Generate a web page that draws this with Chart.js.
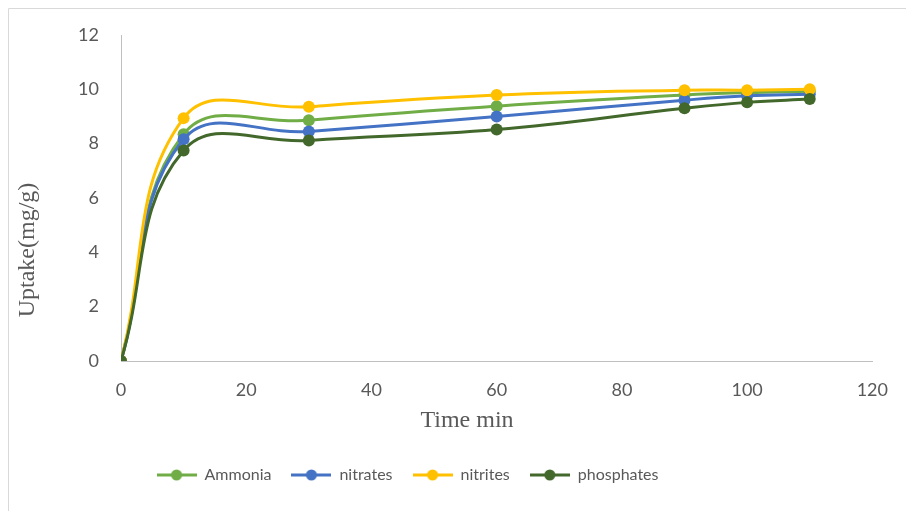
<!DOCTYPE html>
<html>
<head>
<meta charset="utf-8">
<script src="https://cdn.jsdelivr.net/npm/chart.js@4"></script>
<style>
  html, body { margin: 0; padding: 0; background: #fff; }
  #wrap { position: relative; width: 906px; height: 511px; }
</style>
</head>
<body>
<div id="wrap"><canvas id="chart" width="906" height="511"></canvas></div>
<script>
// time (min) and uptake (mg/g)
const times      = [0, 10, 30, 60, 90, 100, 110];
const ammonia    = [0, 8.35, 8.86, 9.38, 9.79, 9.88, 9.93];
const nitrates   = [0, 8.16, 8.45, 9.00, 9.60, 9.76, 9.82];
const nitrites   = [0, 8.94, 9.36, 9.79, 9.97, 9.97, 10.00];
const phosphates = [0, 7.75, 8.12, 8.52, 9.30, 9.52, 9.64];

const seriesNames  = ['Ammonia', 'nitrates', 'nitrites', 'phosphates'];
const seriesValues = [ammonia, nitrates, nitrites, phosphates];
const seriesColors = ['#70AD47', '#4472C4', '#FFC000', '#43682B'];

const xTitle = 'Time min';
const yTitle = 'Uptake(mg/g)';
const GRAY = '#595959';

// legend marker: short line with a dot on it
function legendMarker(color) {
  const c = document.createElement('canvas');
  c.width = 40; c.height = 14;
  const g = c.getContext('2d');
  g.strokeStyle = color; g.lineWidth = 3;
  g.beginPath(); g.moveTo(0, 7); g.lineTo(40, 7); g.stroke();
  g.fillStyle = color;
  g.beginPath(); g.arc(20, 7, 5.5, 0, Math.PI * 2); g.fill();
  return c;
}

const datasets = seriesNames.map((name, i) => ({
  label: name,
  data: times.map((t, j) => ({ x: t, y: seriesValues[i][j] })),
  borderColor: seriesColors[i],
  backgroundColor: seriesColors[i],
  borderWidth: 3,
  pointRadius: 6,
  pointHoverRadius: 6,
  pointBorderWidth: 0,
  tension: 0.42,
  order: seriesNames.length - i   // later series sit on top, like the source
}));

const extras = {
  id: 'extras',
  afterLayout(chart) {
    // legend sits left of centre in the source
    chart.legend.left -= 30;
    chart.legend.right -= 30;
  },
  beforeDraw(chart) {
    const ctx = chart.ctx;
    ctx.save();
    ctx.strokeStyle = '#d9d9d9'; ctx.lineWidth = 1;
    ctx.beginPath();
    ctx.moveTo(8.5, 511); ctx.lineTo(8.5, 8.5); ctx.lineTo(906, 8.5);
    ctx.stroke();
    ctx.restore();
  },
  afterDraw(chart) {
    const ctx = chart.ctx;
    ctx.save();
    ctx.fillStyle = GRAY;
    ctx.font = '24px "Liberation Serif", "Times New Roman", serif';
    ctx.textAlign = 'center'; ctx.textBaseline = 'middle';
    ctx.fillText(xTitle, 467, 421);
    ctx.translate(28, 250);
    ctx.rotate(-Math.PI / 2);
    ctx.fillText(yTitle, 0, 0);
    ctx.restore();
  }
};

new Chart(document.getElementById('chart'), {
  type: 'line',
  data: { datasets },
  plugins: [extras],
  options: {
    responsive: false,
    animation: false,
    layout: { padding: { left: 0, right: 31, top: 35, bottom: 18 } },
    plugins: {
      tooltip: { enabled: false },
      legend: {
        position: 'bottom',
        labels: {
          usePointStyle: true,
          pointStyleWidth: 40,
          padding: 20,
          color: GRAY,
          font: { family: 'Lato', size: 16 },
          generateLabels: (chart) => chart.data.datasets.map((ds, i) => ({
            text: ds.label,
            pointStyle: legendMarker(ds.borderColor),
            fillStyle: ds.borderColor,
            strokeStyle: ds.borderColor,
            lineWidth: 0,
            fontColor: GRAY,
            datasetIndex: i
          }))
        }
      }
    },
    scales: {
      x: {
        type: 'linear',
        min: 0, max: 120,
        grid: { display: false, drawTicks: false },
        border: { display: true, color: '#bfbfbf', width: 1 },
        ticks: { stepSize: 20, padding: 18, color: GRAY, font: { family: 'Lato', size: 18 } },
        afterFit: (s) => { s.height = 86; }
      },
      y: {
        min: 0, max: 12,
        grid: { display: false, drawTicks: false },
        border: { display: true, color: '#bfbfbf', width: 1 },
        ticks: { stepSize: 2, padding: 22, color: GRAY, font: { family: 'Lato', size: 18 } },
        afterFit: (s) => { s.width = 121; }
      }
    }
  }
});
</script>
</body>
</html>
